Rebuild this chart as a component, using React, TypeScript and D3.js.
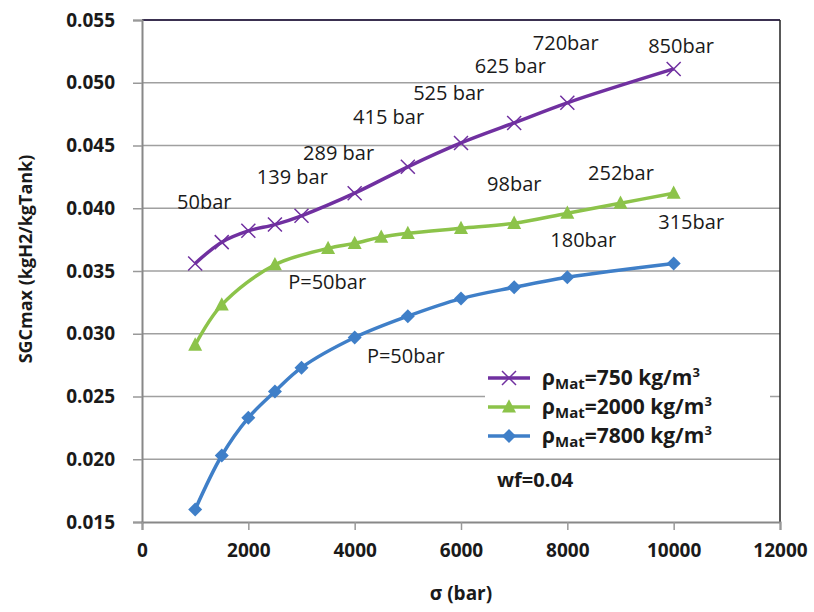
import { useEffect, useRef } from "react";
import * as d3 from "d3";

// sigma (bar) for each series
const sigma750 = [1000, 1500, 2000, 2500, 3000, 4000, 5000, 6000, 7000, 8000, 10000];
const sgc750 = [0.0356, 0.0373, 0.0382, 0.0387, 0.0394, 0.0412, 0.0433, 0.0452, 0.0468, 0.0484, 0.0511];

const sigma2000 = [1000, 1500, 2500, 3500, 4000, 4500, 5000, 6000, 7000, 8000, 9000, 10000];
const sgc2000 = [0.0291, 0.0323, 0.0355, 0.0368, 0.0372, 0.0377, 0.038, 0.0384, 0.0388, 0.0396, 0.0404, 0.0412];

const sigma7800 = [1000, 1500, 2000, 2500, 3000, 4000, 5000, 6000, 7000, 8000, 10000];
const sgc7800 = [0.016, 0.0203, 0.0233, 0.0254, 0.0273, 0.0297, 0.0314, 0.0328, 0.0337, 0.0345, 0.0356];

const xTicks = [0, 2000, 4000, 6000, 8000, 10000, 12000];
const yTicks = [0.015, 0.02, 0.025, 0.03, 0.035, 0.04, 0.045, 0.05, 0.055];

// pressure annotations, anchored in data units (left edge, middle)
const notes: [string, number, number][] = [
  ["50bar", 660, 0.0405],
  ["139 bar", 2160, 0.0425],
  ["289 bar", 3030, 0.0444],
  ["415 bar", 3970, 0.0473],
  ["525 bar", 5100, 0.0492],
  ["625 bar", 6260, 0.0513],
  ["720bar", 7350, 0.0532],
  ["850bar", 9520, 0.0529],
  ["98bar", 6490, 0.0419],
  ["252bar", 8390, 0.0428],
  ["315bar", 9710, 0.0389],
  ["180bar", 7680, 0.0375],
  ["P=50bar", 2750, 0.0341],
  ["P=50bar", 4230, 0.0282],
];

const series = [
  { name: "750", xs: sigma750, ys: sgc750, color: "#7030a0", marker: "x" },
  { name: "2000", xs: sigma2000, ys: sgc2000, color: "#8cc34a", marker: "tri" },
  { name: "7800", xs: sigma7800, ys: sgc7800, color: "#3f7fc8", marker: "dia" },
];

const FONT = "'Open Sans', sans-serif";

export default function App() {
  const svgRef = useRef<SVGSVGElement>(null);
  const width = 814;
  const height = 612;

  useEffect(() => {
    const svg = d3.select(svgRef.current);
    svg.selectAll("*").remove();

    const x = d3.scaleLinear().domain([0, 12000]).range([142, 780]);
    const y = d3.scaleLinear().domain([0.015, 0.055]).range([522, 20]);

    svg.append("rect").attr("width", width).attr("height", height).attr("fill", "#fff");

    // horizontal gridlines
    svg.append("g")
      .selectAll("line")
      .data(yTicks.slice(1, -1))
      .enter()
      .append("line")
      .attr("x1", x(0))
      .attr("x2", x(12000))
      .attr("y1", (d) => y(d))
      .attr("y2", (d) => y(d))
      .attr("stroke", "#a0a0a0")
      .attr("stroke-width", 1.5);

    // top & right frame
    svg.append("line").attr("x1", x(0)).attr("x2", x(12000)).attr("y1", y(0.055)).attr("y2", y(0.055))
      .attr("stroke", "#3a3050").attr("stroke-width", 2);
    svg.append("line").attr("x1", x(12000)).attr("x2", x(12000)).attr("y1", y(0.055)).attr("y2", y(0.015))
      .attr("stroke", "#222").attr("stroke-width", 1.5);

    // y axis
    const yAxis = svg.append("g")
      .attr("transform", `translate(${x(0)},0)`)
      .call(d3.axisLeft(y).tickValues(yTicks).tickFormat(d3.format(".3f")).tickSize(9).tickPadding(18));
    yAxis.select(".domain").attr("stroke", "#888").attr("stroke-width", 2);
    yAxis.selectAll(".tick line").attr("stroke", "#999").attr("stroke-width", 1.5);
    yAxis.selectAll("text")
      .attr("font-family", FONT).attr("font-size", 19).attr("font-weight", "bold").attr("fill", "#1a1a1a");

    // x axis
    const xAxis = svg.append("g")
      .attr("transform", `translate(0,${y(0.015)})`)
      .call(d3.axisBottom(x).tickValues(xTicks).tickFormat(d3.format("d")).tickSize(8).tickPadding(14));
    xAxis.select(".domain").attr("stroke", "#888").attr("stroke-width", 2);
    xAxis.selectAll(".tick line").attr("stroke", "#999").attr("stroke-width", 1.5);
    xAxis.selectAll("text")
      .attr("font-family", FONT).attr("font-size", 19).attr("font-weight", "bold").attr("fill", "#1a1a1a");

    // axis titles
    svg.append("text")
      .attr("transform", `translate(32,259) rotate(-90)`)
      .attr("text-anchor", "middle")
      .attr("font-family", FONT).attr("font-size", 18).attr("font-weight", "bold").attr("fill", "#1a1a1a")
      .text("SGCmax (kgH2/kgTank)");
    svg.append("text")
      .attr("x", 461).attr("y", 600)
      .attr("text-anchor", "middle")
      .attr("font-family", FONT).attr("font-size", 19).attr("font-weight", "bold").attr("fill", "#1a1a1a")
      .text("σ (bar)");

    const line = d3.line<[number, number]>()
      .x((d) => x(d[0]))
      .y((d) => y(d[1]))
      .curve(d3.curveCatmullRom.alpha(0.5));

    const drawMarker = (g: any, kind: string, color: string, cx: number, cy: number, s: number) => {
      if (kind === "x") {
        g.append("path")
          .attr("d", `M${cx - s},${cy - s}L${cx + s},${cy + s}M${cx - s},${cy + s}L${cx + s},${cy - s}`)
          .attr("stroke", color).attr("stroke-width", 1.5).attr("fill", "none");
      } else if (kind === "tri") {
        g.append("path")
          .attr("d", `M${cx},${cy - s * 1.1}L${cx + s},${cy + s * 0.8}L${cx - s},${cy + s * 0.8}Z`)
          .attr("fill", color);
      } else {
        g.append("path")
          .attr("d", `M${cx},${cy - s}L${cx + s},${cy}L${cx},${cy + s}L${cx - s},${cy}Z`)
          .attr("fill", color);
      }
    };

    const plot = svg.append("g");
    series.forEach((s) => {
      const pts = s.xs.map((v, i) => [v, s.ys[i]] as [number, number]);
      plot.append("path")
        .attr("d", line(pts))
        .attr("fill", "none")
        .attr("stroke", s.color)
        .attr("stroke-width", 3.5);
      pts.forEach((p) => drawMarker(plot, s.marker, s.color, x(p[0]), y(p[1]), 7));
    });

    // annotations
    svg.append("g")
      .selectAll("text")
      .data(notes)
      .enter()
      .append("text")
      .attr("x", (d) => x(d[1]))
      .attr("y", (d) => y(d[2]))
      .attr("dy", "0.35em")
      .attr("font-family", FONT).attr("font-size", 20).attr("fill", "#1a1a1a")
      .text((d) => d[0]);

    // legend
    const lg = svg.append("g");
    lg.append("rect").attr("x", 485).attr("y", 362).attr("width", 285).attr("height", 90).attr("fill", "#fff");
    series.forEach((s, i) => {
      const cy = 378 + i * 29;
      lg.append("line").attr("x1", 488).attr("x2", 530).attr("y1", cy).attr("y2", cy)
        .attr("stroke", s.color).attr("stroke-width", 3.5);
      drawMarker(lg, s.marker, s.color, 509, cy, 7);
      const t = lg.append("text")
        .attr("x", 542).attr("y", cy).attr("dy", "0.35em")
        .attr("font-family", FONT).attr("font-size", 21).attr("font-weight", "bold").attr("fill", "#1a1a1a");
      t.append("tspan").text("ρ");
      t.append("tspan").attr("font-size", 15).attr("dy", 4).text("Mat");
      t.append("tspan").attr("dy", -4).text(`=${s.name} kg/m`);
      t.append("tspan").attr("font-size", 13).attr("dy", -8).text("3");
    });
    svg.append("text")
      .attr("x", 497).attr("y", 480).attr("dy", "0.35em")
      .attr("font-family", FONT).attr("font-size", 20).attr("font-weight", "bold").attr("fill", "#1a1a1a")
      .text("wf=0.04");
  }, []);

  return (
    <svg
      ref={svgRef}
      width={width}
      height={height}
      style={{ position: "absolute", left: 0, top: 0 }}
    ></svg>
  );
}
